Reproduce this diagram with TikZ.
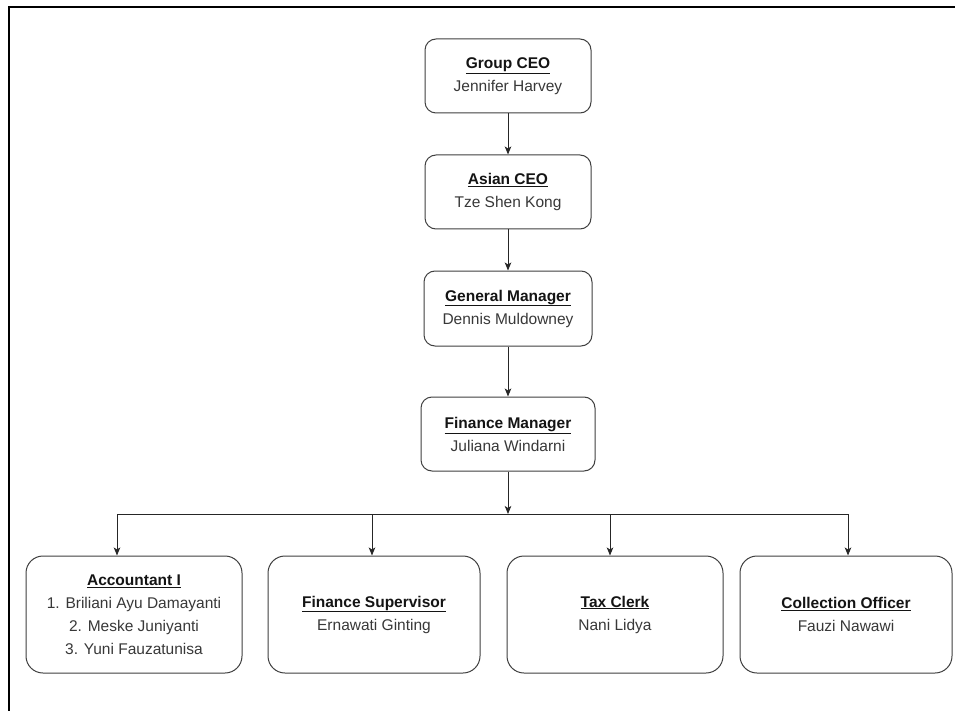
\documentclass[tikz,border=0pt]{standalone}
\usepackage{fontspec}
\setmainfont{Liberation Sans}
\usetikzlibrary{arrows.meta}
\newcommand{\ttl}[1]{\textbf{\underline{#1}}}
\newcommand{\nm}[1]{\textcolor{black!78}{#1}}
\begin{document}
\begin{tikzpicture}[x=1pt,y=-1pt,
  box/.style={draw=black!75, line width=1pt, fill=white, rectangle, inner sep=0pt,
    align=center, font=\fontsize{15.5}{23}\selectfont, text=black!92},
  topbox/.style={box, rounded corners=11pt},
  lowbox/.style={box, rounded corners=17pt},
  conn/.style={draw=black!85, line width=1pt},
  arr/.style={conn, -{Stealth[length=8pt,width=6.5pt,inset=2pt]}},
  frame/.style={draw=black, line width=1.3pt}]
\useasboundingbox (0,0) rectangle (955,711);
\fill[white] (0,0) rectangle (955,711);
\draw[frame] (9,711) -- (9,7) -- (955,7);

\node[topbox, minimum width=166pt, minimum height=74pt] (gceo) at (508,76)
  {\ttl{Group CEO}\\\nm{Jennifer Harvey}};
\node[topbox, minimum width=166pt, minimum height=74pt] (aceo) at (508,192)
  {\ttl{Asian CEO}\\\nm{Tze Shen Kong}};
\node[topbox, minimum width=168pt, minimum height=75pt] (gm) at (508,308.5)
  {\ttl{General Manager}\\\nm{Dennis Muldowney}};
\node[topbox, minimum width=174pt, minimum height=74pt] (fm) at (508,434)
  {\ttl{Finance Manager}\\\nm{Juliana Windarni}};

\node[lowbox, minimum width=216pt, minimum height=117pt] (acc) at (134,614.5)
  {\ttl{Accountant I}\\\nm{1. Briliani Ayu Damayanti}\\\nm{2. Meske Juniyanti}\\\nm{3. Yuni Fauzatunisa}};
\node[lowbox, minimum width=212pt, minimum height=117pt] (fs) at (374,614.5)
  {\ttl{Finance Supervisor}\\\nm{Ernawati Ginting}};
\node[lowbox, minimum width=216pt, minimum height=117pt] (tc) at (615,614.5)
  {\ttl{Tax Clerk}\\\nm{Nani Lidya}};
\node[lowbox, minimum width=212pt, minimum height=117pt] (co) at (846,614.5)
  {\ttl{Collection Officer}\\\nm{Fauzi Nawawi}};

\coordinate (bus) at (508,514);

\draw[arr] (gceo) -- (aceo);
\draw[arr] (aceo) -- (gm);
\draw[arr] (gm) -- (fm);
\draw[arr] (fm) -- (bus);
\draw[arr] (bus) -| ([xshift=-17pt]acc.north);
\draw[arr] (bus) -| ([xshift=-2pt]fs.north);
\draw[arr] (bus) -| ([xshift=-5pt]tc.north);
\draw[arr] (bus) -| ([xshift=2pt]co.north);
\end{tikzpicture}
\end{document}
